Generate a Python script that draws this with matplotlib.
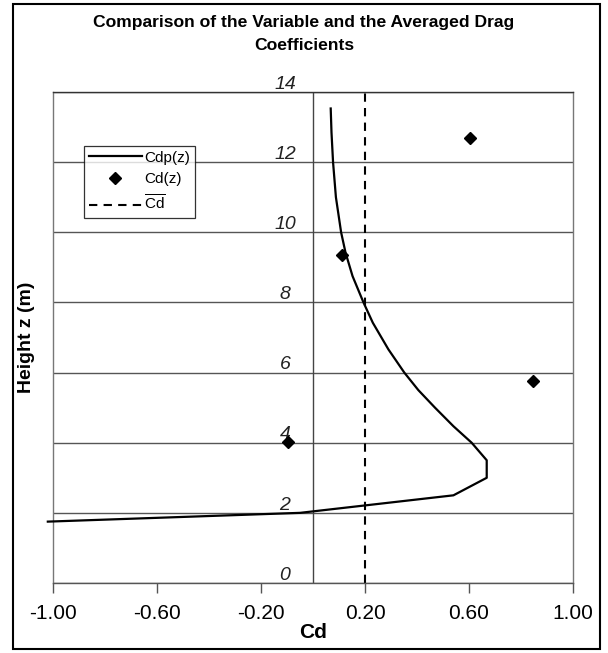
import numpy as np
import matplotlib
matplotlib.use("Agg")
import matplotlib.pyplot as plt
from matplotlib.patches import Rectangle

plt.rcParams['font.family'] = ['Liberation Sans', 'DejaVu Sans']
plt.rcParams['mathtext.fontset'] = 'custom'
plt.rcParams['mathtext.rm'] = 'Liberation Sans'

# Cdp(z) profile
cdp_x = [-1.02, -0.05, 0.54, 0.668, 0.668, 0.61, 0.54, 0.469, 0.405, 0.351, 0.29,
         0.23, 0.194, 0.152, 0.125, 0.108, 0.088, 0.077, 0.071, 0.068]
cdp_z = [1.75, 2.0, 2.5, 3.0, 3.5, 4.0, 4.47, 5.0, 5.5, 6.0, 6.66,
         7.42, 8.0, 8.75, 9.42, 10.0, 11.0, 12.0, 12.85, 13.53]

# Cd(z) points
cd_x = [0.604, 0.11, 0.847, -0.095]
cd_z = [12.7, 9.34, 5.77, 4.01]

# averaged Cd
cd_bar = 0.20

xticks = [-1.00, -0.60, -0.20, 0.20, 0.60, 1.00]
yticks = [0, 2, 4, 6, 8, 10, 12, 14]

fig = plt.figure(figsize=(6.08, 6.53), dpi=100)
ax = fig.add_axes([0.0872, 0.1072, 0.8553, 0.7519])

ax.set_xlim(-1, 1)
ax.set_ylim(0, 14)

# grid + y axis at x=0
for yv in yticks:
    ax.axhline(yv, color='#555555', lw=1.0, zorder=1)
ax.axvline(0, color='#444444', lw=1.0, zorder=1)

ax.plot(cdp_x, cdp_z, color='black', lw=1.6, label='Cdp(z)', zorder=3, clip_on=False)
ax.plot(cd_x, cd_z, 'D', color='black', ms=6, label='Cd(z)', zorder=4)
ax.plot([cd_bar, cd_bar], [0, 14], color='black', lw=1.5, ls=(0, (4, 3)),
        label=r'$\overline{\mathrm{Cd}}$', zorder=2)

for s in ax.spines.values():
    s.set_color('#777777')
    s.set_linewidth(1.0)
ax.spines['top'].set_color('#333333')
ax.spines['bottom'].set_color('#555555')

ax.set_xticks(xticks)
ax.set_xticklabels(['%.2f' % v for v in xticks], fontsize=15)
ax.tick_params(axis='x', direction='out', length=7, width=1, color='#555555', pad=8)
ax.set_yticks([])

# handwritten-looking labels next to the y axis
for yv in yticks:
    ax.text(-0.108, yv + 0.22, str(yv), fontsize=14, style='italic',
            ha='center', va='center', color='#222222', fontweight='light')

ax.set_xlabel('Cd', fontsize=15, fontweight='bold', labelpad=0)
ax.set_ylabel('Height z (m)', fontsize=14, fontweight='bold')
ax.yaxis.set_label_coords(-0.035, 0.5)

leg = ax.legend(loc='upper left', bbox_to_anchor=(84 / 608, 1 - 146 / 653),
                bbox_transform=fig.transFigure, fontsize=11, frameon=True,
                fancybox=False, handlelength=3.5, handletextpad=0.15,
                labelspacing=0.5, borderpad=0.3, borderaxespad=0)
leg.get_frame().set_edgecolor('black')
leg.get_frame().set_linewidth(0.9)

fig.text(0.5, 1 - 22 / 653, 'Comparison of the Variable and the Averaged Drag',
         ha='center', va='center', fontsize=12.6, fontweight='bold')
fig.text(0.5, 1 - 45 / 653, 'Coefficients',
         ha='center', va='center', fontsize=12.6, fontweight='bold')

fig.patches.append(Rectangle((13 / 608, 1 - 649 / 653), 587 / 608, 645 / 653,
                             transform=fig.transFigure, fill=False,
                             edgecolor='black', lw=1.5))

fig.savefig('out.png', dpi=100)
